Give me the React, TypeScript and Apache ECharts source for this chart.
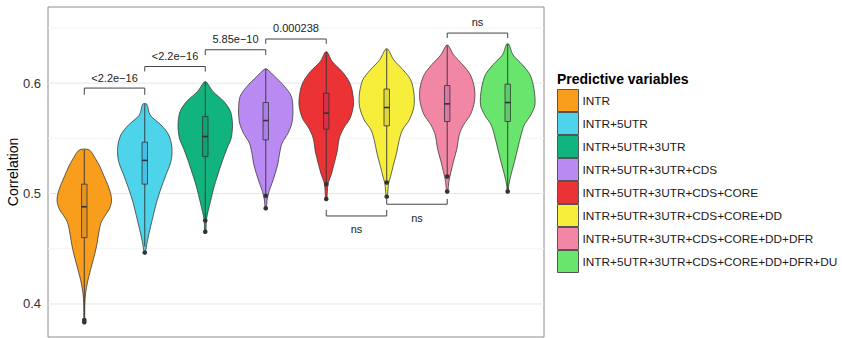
import React, { useEffect, useRef } from "react";
import * as echarts from "echarts";

const categories = [
  "INTR",
  "INTR+5UTR",
  "INTR+5UTR+3UTR",
  "INTR+5UTR+3UTR+CDS",
  "INTR+5UTR+3UTR+CDS+CORE",
  "INTR+5UTR+3UTR+CDS+CORE+DD",
  "INTR+5UTR+3UTR+CDS+CORE+DD+DFR",
  "INTR+5UTR+3UTR+CDS+CORE+DD+DFR+DU",
];
const colors = ["#F99D1C", "#4DD3EA", "#11B47E", "#B98AF1", "#EB3335", "#F6EE3B", "#F287A5", "#69E46D"];
const boxColors = ["#E6941F", "#45BFE6", "#0FA273", "#A97EEA", "#D8304A", "#DFD83A", "#DA78A5", "#5CCC68"];

// violin outlines: [correlation, relative half-width]
const profileINTR = [[0.5395, 0.18], [0.532, 0.4], [0.524, 0.58], [0.516, 0.72], [0.508, 0.86], [0.5, 0.97], [0.493, 1.0], [0.486, 0.92], [0.48, 0.76], [0.474, 0.62], [0.467, 0.55], [0.458, 0.49], [0.45, 0.43], [0.44, 0.33], [0.43, 0.22], [0.42, 0.12], [0.41, 0.05], [0.4, 0.02], [0.384, 0.01]];
const profile5UTR = [[0.581, 0.07], [0.571, 0.2], [0.562, 0.6], [0.553, 0.88], [0.541, 1.0], [0.529, 0.96], [0.517, 0.78], [0.505, 0.6], [0.4927, 0.44], [0.481, 0.32], [0.4686, 0.2], [0.4565, 0.09], [0.4465, 0.02]];
const profile3UTR = [[0.601, 0.04], [0.5925, 0.28], [0.5835, 0.68], [0.574, 0.93], [0.5622, 1.0], [0.55, 0.95], [0.541, 0.8], [0.529, 0.62], [0.517, 0.46], [0.505, 0.31], [0.4927, 0.19], [0.4836, 0.1], [0.476, 0.04], [0.4655, 0.02]];
const profileCDS = [[0.6127, 0.04], [0.606, 0.33], [0.597, 0.69], [0.588, 0.94], [0.5758, 1.0], [0.5638, 0.96], [0.5547, 0.82], [0.5456, 0.6], [0.5366, 0.51], [0.5275, 0.45], [0.5184, 0.35], [0.5094, 0.23], [0.5018, 0.12], [0.4942, 0.05], [0.4867, 0.02]];
const profileCORE = [[0.628, 0.04], [0.6195, 0.22], [0.6105, 0.58], [0.6014, 0.84], [0.5924, 0.96], [0.5803, 1.0], [0.5683, 0.88], [0.5592, 0.64], [0.5502, 0.48], [0.538, 0.4], [0.526, 0.28], [0.5169, 0.18], [0.5094, 0.07], [0.5018, 0.04], [0.4951, 0.02]];
const profileDD = [[0.6308, 0.04], [0.621, 0.26], [0.612, 0.6], [0.603, 0.88], [0.5909, 1.0], [0.5788, 1.0], [0.5667, 0.83], [0.5577, 0.58], [0.5486, 0.46], [0.5366, 0.36], [0.5244, 0.23], [0.5154, 0.14], [0.5094, 0.07], [0.4972, 0.02]];
const profileDFR = [[0.6341, 0.04], [0.6257, 0.23], [0.6166, 0.57], [0.6075, 0.85], [0.5955, 1.0], [0.5833, 1.0], [0.5713, 0.85], [0.5622, 0.6], [0.5531, 0.44], [0.5411, 0.36], [0.529, 0.23], [0.5199, 0.14], [0.5108, 0.06], [0.5018, 0.02]];
const profileDU = [[0.6353, 0.04], [0.6257, 0.19], [0.6166, 0.54], [0.6075, 0.82], [0.5955, 0.96], [0.5803, 1.0], [0.5713, 0.85], [0.5622, 0.61], [0.5531, 0.49], [0.5411, 0.37], [0.529, 0.25], [0.5169, 0.12], [0.5078, 0.04], [0.5018, 0.02]];
const profiles = [profileINTR, profile5UTR, profile3UTR, profileCDS, profileCORE, profileDD, profileDFR, profileDU];

// box plot statistics
const q1 = [0.46, 0.5085, 0.5335, 0.5486, 0.5583, 0.5613, 0.5652, 0.5652];
const medians = [0.488, 0.53, 0.5516, 0.5661, 0.5728, 0.5779, 0.5812, 0.5824];
const q3 = [0.5085, 0.5465, 0.5697, 0.5824, 0.5909, 0.5946, 0.5978, 0.5991];
const whiskerLow = [0.388, 0.452, 0.478, 0.499, 0.51, 0.511, 0.517, 0.503];
const whiskerHigh = [0.5395, 0.581, 0.601, 0.6127, 0.628, 0.6308, 0.6341, 0.6353];
const outliers = [[0.3855, 0.3835], [0.4465], [0.4755, 0.4655], [0.4979, 0.4867], [0.5085, 0.4951], [0.51, 0.4972], [0.5154, 0.5018], [0.5018]];

// axis ticks
const majorTicks = [0.4, 0.5, 0.6];
const minorTicks = [0.45, 0.55, 0.65];

// significance brackets
const bracketFrom = [0, 1, 2, 3, 6, 4, 5];
const bracketTo = [1, 2, 3, 4, 7, 5, 6];
const bracketY = [0.5955, 0.615, 0.6302, 0.6399, 0.6453, 0.4797, 0.4903];
const bracketTip = [0.5894, 0.6105, 0.6254, 0.6356, 0.6408, 0.4852, 0.4951];
const bracketLabelY = [0.6045, 0.6241, 0.6399, 0.6498, 0.6549, 0.4677, 0.4777];
const bracketLabels = ["<2.2e\u221216", "<2.2e\u221216", "5.85e\u221210", "0.000238", "ns", "ns", "ns"];

const FONT = '"Liberation Sans", Arial, Helvetica, sans-serif';
const MAX_HALF = 0.45;
const BOX_HALF = 0.045;
const X_MIN = -0.6;
const X_MAX = 7.6;

export default function App() {
  const ref = useRef<HTMLDivElement>(null);
  useEffect(() => {
    document.body.style.margin = "0";
    if (!ref.current) return;
    const chart = echarts.init(ref.current, undefined, { renderer: "svg" });

    const violinSeries = categories.map((name, idx) => ({
      type: "custom",
      name,
      z: 2,
      silent: true,
      itemStyle: { color: colors[idx] },
      data: [[idx, medians[idx]]],
      encode: { x: 0, y: 1 },
      renderItem: (_params: any, api: any) => {
        const prof = profiles[idx];
        const left = prof.map(([v, w]) => api.coord([idx - w * MAX_HALF, v]));
        const right = prof
          .slice()
          .reverse()
          .map(([v, w]) => api.coord([idx + w * MAX_HALF, v]));
        const boxTL = api.coord([idx - BOX_HALF, q3[idx]]);
        const boxBR = api.coord([idx + BOX_HALF, q1[idx]]);
        const medL = api.coord([idx - BOX_HALF, medians[idx]]);
        const medR = api.coord([idx + BOX_HALF, medians[idx]]);
        const wTop = api.coord([idx, whiskerHigh[idx]]);
        const wBot = api.coord([idx, whiskerLow[idx]]);
        const children: any[] = [
          {
            type: "polygon",
            shape: { points: left.concat(right), smooth: 0.3 },
            style: { fill: colors[idx], stroke: "#333333", lineWidth: 0.75 },
          },
          {
            type: "line",
            shape: { x1: wTop[0], y1: wTop[1], x2: wBot[0], y2: wBot[1] },
            style: { stroke: "#333333", lineWidth: 0.9 },
          },
          {
            type: "rect",
            shape: { x: boxTL[0], y: boxTL[1], width: boxBR[0] - boxTL[0], height: boxBR[1] - boxTL[1] },
            style: { fill: boxColors[idx], stroke: "#333333", lineWidth: 0.8 },
          },
          {
            type: "line",
            shape: { x1: medL[0], y1: medL[1], x2: medR[0], y2: medR[1] },
            style: { stroke: "#333333", lineWidth: 1.6 },
          },
        ];
        outliers[idx].forEach((v) => {
          const p = api.coord([idx, v]);
          children.push({ type: "circle", shape: { cx: p[0], cy: p[1], r: 2.3 }, style: { fill: "#333333" } });
        });
        return { type: "group", children };
      },
    }));

    const gridSeries = {
      type: "custom",
      name: "grid",
      z: 1,
      silent: true,
      data: [...majorTicks.map((v) => [0, v, 1]), ...minorTicks.map((v) => [0, v, 0])],
      encode: { x: 0, y: 1 },
      renderItem: (_params: any, api: any) => {
        const v = api.value(1);
        const major = api.value(2) === 1;
        const a = api.coord([X_MIN, v]);
        const b = api.coord([X_MAX, v]);
        return {
          type: "line",
          shape: { x1: a[0], y1: a[1], x2: b[0], y2: b[1] },
          style: { stroke: major ? "#E6E6E6" : "#F3F3F3", lineWidth: 1 },
        };
      },
    };

    const bracketSeries = {
      type: "custom",
      name: "brackets",
      z: 3,
      silent: true,
      data: bracketLabels.map((_, i) => [i, bracketY[i]]),
      encode: { x: 0, y: 1 },
      renderItem: (params: any, api: any) => {
        const i = params.dataIndex;
        const p1 = api.coord([bracketFrom[i], bracketTip[i]]);
        const p2 = api.coord([bracketFrom[i], bracketY[i]]);
        const p3 = api.coord([bracketTo[i], bracketY[i]]);
        const p4 = api.coord([bracketTo[i], bracketTip[i]]);
        const lp = api.coord([(bracketFrom[i] + bracketTo[i]) / 2, bracketLabelY[i]]);
        return {
          type: "group",
          children: [
            {
              type: "polyline",
              shape: { points: [p1, p2, p3, p4] },
              style: { stroke: "#444444", lineWidth: 1, fill: "none" },
            },
            {
              type: "text",
              x: lp[0],
              y: lp[1],
              style: {
                text: bracketLabels[i],
                fill: "#222222",
                fontSize: 11,
                fontFamily: FONT,
                align: "center",
                verticalAlign: "middle",
              },
            },
          ],
        };
      },
    };

    const legendGraphics: any[] = [
      {
        type: "text",
        x: 557,
        y: 79,
        style: {
          text: "Predictive variables",
          fontSize: 14,
          fontWeight: "bold",
          fontFamily: FONT,
          fill: "#000000",
          align: "left",
          verticalAlign: "middle",
        },
      },
    ];
    categories.forEach((name, i) => {
      legendGraphics.push({
        type: "rect",
        shape: { x: 557.5, y: 89.5 + 23 * i, width: 21, height: 22 },
        style: { fill: colors[i], stroke: "#555555", lineWidth: 1 },
      });
      legendGraphics.push({
        type: "text",
        x: 582.5,
        y: 100.8 + 23 * i,
        style: {
          text: name,
          fontSize: 11.8,
          fontFamily: FONT,
          fill: "#1A1A1A",
          align: "left",
          verticalAlign: "middle",
        },
      });
    });

    chart.setOption({
      animation: false,
      grid: {
        left: 48,
        top: 7,
        right: 298,
        bottom: 1,
        show: true,
        borderColor: "#8C8C8C",
        borderWidth: 1,
        backgroundColor: "#FFFFFF",
      },
      xAxis: {
        type: "value",
        min: X_MIN,
        max: X_MAX,
        show: false,
      },
      yAxis: {
        type: "value",
        min: 0.3701,
        max: 0.6689,
        axisLine: { show: false },
        axisTick: { show: false },
        splitLine: { show: false },
        axisLabel: {
          customValues: majorTicks,
          formatter: (v: number) => v.toFixed(1),
          fontSize: 13,
          color: "#333333",
          fontFamily: FONT,
          margin: 7,
        },
      },
      graphic: [
        ...legendGraphics,
        {
          type: "text",
          x: 13,
          y: 172,
          rotation: Math.PI / 2,
          style: {
            text: "Correlation",
            fontSize: 14,
            fontFamily: FONT,
            fill: "#000000",
            align: "center",
            verticalAlign: "middle",
          },
        },
      ],
      series: [gridSeries, ...violinSeries, bracketSeries],
    });

    return () => {
      chart.dispose();
    };
  }, []);

  return <div ref={ref} style={{ width: 842, height: 338 }} />;
}
